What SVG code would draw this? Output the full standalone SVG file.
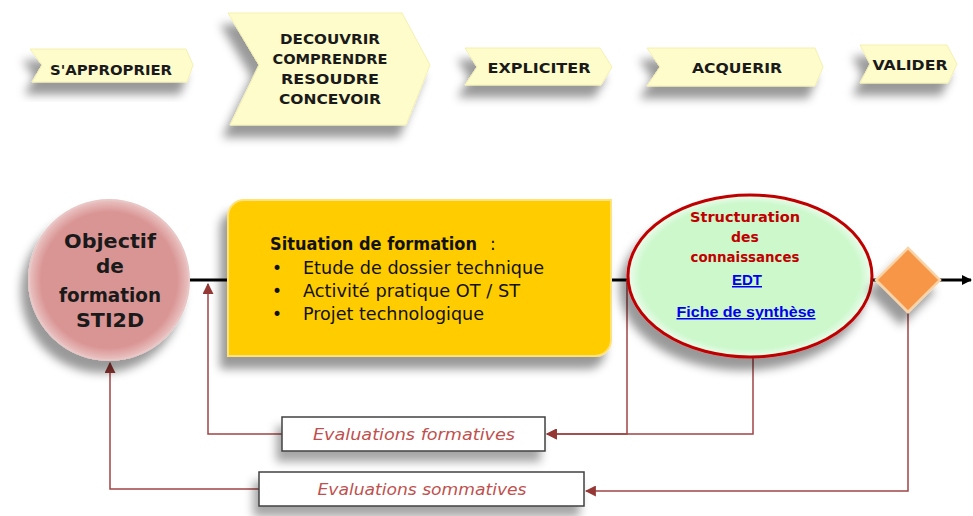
<svg xmlns="http://www.w3.org/2000/svg" width="973" height="516" viewBox="0 0 973 516">
<defs>
<style>
.ban{fill:#fefccb;stroke:#f4f0b0;stroke-width:1;filter:url(#sh)}
.bt{font-family:"Comic Sans MS","DejaVu Sans",sans-serif;font-weight:bold;font-size:14px;fill:#1a1a1a;text-anchor:middle}
.obj{font-family:"Comic Sans MS","DejaVu Sans",sans-serif;font-size:20px;font-weight:bold;fill:#1a1a1a;text-anchor:middle}
.sit{font-family:"Comic Sans MS","DejaVu Sans",sans-serif;font-size:17px;fill:#111}
.str{font-family:"Comic Sans MS","DejaVu Sans",sans-serif;font-size:14px;font-weight:bold;fill:#c00000;text-anchor:middle}
.lnk{font-family:"Liberation Sans",Arial,sans-serif;font-size:15px;font-weight:bold;fill:#0000ee;text-anchor:middle;text-decoration:underline}
.ev{font-family:"Comic Sans MS","DejaVu Sans",sans-serif;font-style:italic;font-size:15px;fill:#c0504d;text-anchor:middle}
.evb{fill:#fff;stroke:#404040;stroke-width:1.5;filter:url(#sh2)}
.blk{fill:none;stroke:#000;stroke-width:3}
.red{fill:none;stroke:#a04646;stroke-width:1.5}
</style>
<filter id="sh" x="-30%" y="-30%" width="160%" height="190%">
<feDropShadow dx="-7" dy="12" stdDeviation="5" flood-color="#000" flood-opacity="0.4"/>
</filter>
<filter id="sh2" x="-30%" y="-30%" width="160%" height="220%">
<feDropShadow dx="-5" dy="10" stdDeviation="5" flood-color="#000" flood-opacity="0.35"/>
</filter>
<radialGradient id="pink" cx="50%" cy="50%" r="50%">
<stop offset="0.85" stop-color="#d99594"/>
<stop offset="1" stop-color="#e9c3c2"/>
</radialGradient>
<radialGradient id="green" cx="50%" cy="50%" r="50%">
<stop offset="0.9" stop-color="#ccf8cc"/>
<stop offset="1" stop-color="#eefcee"/>
</radialGradient>
<marker id="ar" viewBox="0 0 10 10" refX="9" refY="5" markerWidth="11" markerHeight="11" markerUnits="userSpaceOnUse" orient="auto">
<path d="M0,0 L10,5 L0,10 Z" fill="#953735"/>
</marker>
<marker id="ak" viewBox="0 0 10 10" refX="9" refY="5" markerWidth="10" markerHeight="10" markerUnits="userSpaceOnUse" orient="auto">
<path d="M0,0 L10,5 L0,10 Z" fill="#000"/>
</marker>
</defs>
<rect width="973" height="516" fill="#fff"/>

<g id="steps">
<g id="s-approprier">
<polygon class="ban" points="30,49 186,49 193,65 187,82 32,82 42,65"/>
<text class="bt" x="111" y="75" textLength="122" lengthAdjust="spacingAndGlyphs">S'APPROPRIER</text>
</g>
<g id="s-decouvrir">
<polygon class="ban" points="228,13 402,13 430,65 406,125 230,125 259,65"/>
<text class="bt" x="330" y="44" textLength="100" lengthAdjust="spacingAndGlyphs">DECOUVRIR</text>
<text class="bt" x="330" y="64" textLength="115" lengthAdjust="spacingAndGlyphs">COMPRENDRE</text>
<text class="bt" x="330" y="84" textLength="98" lengthAdjust="spacingAndGlyphs">RESOUDRE</text>
<text class="bt" x="330" y="104" textLength="102" lengthAdjust="spacingAndGlyphs">CONCEVOIR</text>
</g>
<g id="s-expliciter">
<polygon class="ban" points="465,48 600,48 612,67 601,85 465,85 477,67"/>
<text class="bt" x="539" y="73" textLength="103" lengthAdjust="spacingAndGlyphs">EXPLICITER</text>
</g>
<g id="s-acquerir">
<polygon class="ban" points="647,48 815,48 823,67 815,86 647,86 660,67"/>
<text class="bt" x="737" y="73" textLength="90" lengthAdjust="spacingAndGlyphs">ACQUERIR</text>
</g>
<g id="s-valider">
<polygon class="ban" points="860,45 947,45 957,64 948,83 860,83 870,64"/>
<text class="bt" x="910" y="70" textLength="75" lengthAdjust="spacingAndGlyphs">VALIDER</text>
</g>
</g>

<g id="connectors">
<path class="blk" d="M190,280 H229"/>
<path class="blk" d="M610,280 H628"/>
<path class="blk" d="M871,280 H877"/>
<path class="blk" d="M939,280 H971" marker-end="url(#ak)"/>
<path class="red" d="M282,434 H208 V284" marker-end="url(#ar)"/>
<path class="red" d="M259,489 H110 V363" marker-end="url(#ar)"/>
<path class="red" d="M753,357 V434 H547" marker-end="url(#ar)"/>
<path class="red" d="M627,280 V434 H547" stroke-width="2" marker-end="url(#ar)"/>
<path class="red" d="M908,311 V491 H586" marker-end="url(#ar)"/>
</g>

<g id="objectif">
<circle cx="109" cy="280" r="80" fill="url(#pink)" stroke="#e9c7c6" stroke-width="2" filter="url(#sh)"/>
<text class="obj" x="110" y="248" textLength="92" lengthAdjust="spacingAndGlyphs">Objectif</text>
<text class="obj" x="110" y="273">de</text>
<text class="obj" x="110" y="302" textLength="102" lengthAdjust="spacingAndGlyphs">formation</text>
<text class="obj" x="110" y="327" textLength="68" lengthAdjust="spacingAndGlyphs">STI2D</text>
</g>

<g id="situation">
<path d="M244,200 H611 V340 A16,16 0 0 1 595,356 H228 V216 A16,16 0 0 1 244,200 Z" fill="#ffcc00" stroke="#ffe27a" stroke-width="2" filter="url(#sh)"/>
<text class="sit" x="270" y="250" font-weight="bold" textLength="207" lengthAdjust="spacingAndGlyphs">Situation de formation</text>
<text class="sit" x="490" y="250">:</text>
<text class="sit" x="272" y="274">•</text>
<text class="sit" x="272" y="297">•</text>
<text class="sit" x="272" y="320">•</text>
<text class="sit" x="303" y="274" textLength="241" lengthAdjust="spacingAndGlyphs">Etude de dossier technique</text>
<text class="sit" x="303" y="297" textLength="217" lengthAdjust="spacingAndGlyphs">Activité pratique OT / ST</text>
<text class="sit" x="303" y="320" textLength="181" lengthAdjust="spacingAndGlyphs">Projet technologique</text>
</g>

<g id="structuration">
<ellipse cx="750" cy="276" rx="122" ry="81" fill="url(#green)" stroke="#c00000" stroke-width="3" filter="url(#sh)"/>
<text class="str" x="745" y="222" textLength="110" lengthAdjust="spacingAndGlyphs">Structuration</text>
<text class="str" x="745" y="242">des</text>
<text class="str" x="745" y="262" textLength="109" lengthAdjust="spacingAndGlyphs">connaissances</text>
<text class="lnk" x="747" y="285">EDT</text>
<text class="lnk" x="746" y="317" textLength="139" lengthAdjust="spacingAndGlyphs">Fiche de synthèse</text>
</g>

<g id="decision">
<polygon points="908,248 940,280 908,312 876,280" fill="#f79646" stroke="#fcd3a6" stroke-width="2.5" filter="url(#sh)"/>
</g>

<g id="formatives">
<rect class="evb" x="282" y="417" width="263" height="34"/>
<text class="ev" x="414" y="440" textLength="202" lengthAdjust="spacingAndGlyphs">Evaluations formatives</text>
</g>

<g id="sommatives">
<rect class="evb" x="259" y="472" width="325" height="34"/>
<text class="ev" x="422" y="495" textLength="209" lengthAdjust="spacingAndGlyphs">Evaluations sommatives</text>
</g>
</svg>
